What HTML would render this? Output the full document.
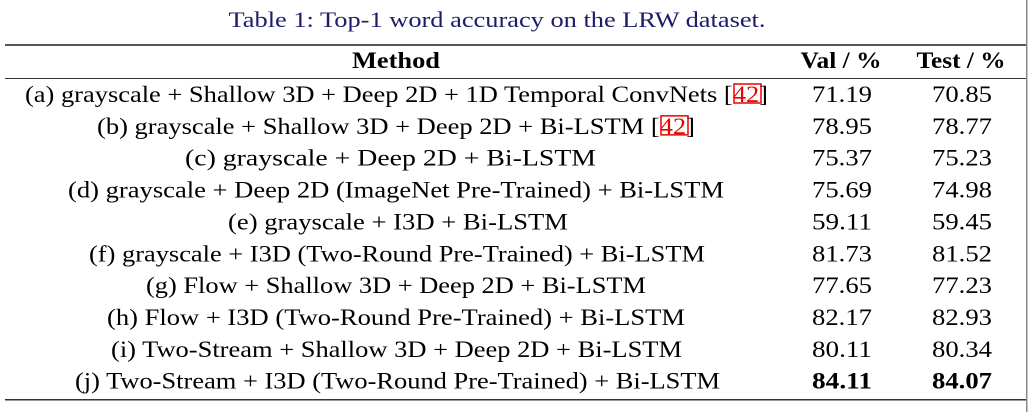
<!DOCTYPE html>
<html><head><meta charset="utf-8">
<style>
html,body{margin:0;padding:0;background:#fff;}
svg, svg text{font-family:"Liberation Serif","Times New Roman",Times,serif;}
</style></head>
<body>
<svg id="tbl" width="1030" height="412" font-family="Liberation Serif, Times New Roman, Times, serif">
<text x="497" y="27" font-size="22" fill="#1c1c6b" text-anchor="middle" textLength="537" lengthAdjust="spacingAndGlyphs">Table 1: Top-1 word accuracy on the LRW dataset.</text>
<rect x="5" y="44" width="1021" height="2" fill="#555"/>
<rect x="5" y="78" width="1021" height="1" fill="#333"/>
<rect x="5" y="399" width="1021" height="1.5" fill="#333"/>
<rect x="1026" y="0" width="1.5" height="412" fill="#888"/>
<text x="396" y="68" font-size="23" font-weight="bold" text-anchor="middle" textLength="88" lengthAdjust="spacingAndGlyphs">Method</text>
<text x="841" y="68" font-size="23" font-weight="bold" text-anchor="middle" textLength="81" lengthAdjust="spacingAndGlyphs">Val / %</text>
<text x="961" y="68" font-size="23" font-weight="bold" text-anchor="middle" textLength="89" lengthAdjust="spacingAndGlyphs">Test / %</text>
<g id="rows"></g>
</svg>
<script>
const methods = [
 "(a) grayscale + Shallow 3D + Deep 2D + 1D Temporal ConvNets [42]",
 "(b) grayscale + Shallow 3D + Deep 2D + Bi-LSTM [42]",
 "(c) grayscale + Deep 2D + Bi-LSTM",
 "(d) grayscale + Deep 2D (ImageNet Pre-Trained) + Bi-LSTM",
 "(e) grayscale + I3D + Bi-LSTM",
 "(f) grayscale + I3D (Two-Round Pre-Trained) + Bi-LSTM",
 "(g) Flow + Shallow 3D + Deep 2D + Bi-LSTM",
 "(h) Flow + I3D (Two-Round Pre-Trained) + Bi-LSTM",
 "(i) Two-Stream + Shallow 3D + Deep 2D + Bi-LSTM",
 "(j) Two-Stream + I3D (Two-Round Pre-Trained) + Bi-LSTM"
];
const valAcc = ["71.19","78.95","75.37","75.69","59.11","81.73","77.65","82.17","80.11","84.11"];
const testAcc = ["70.85","78.77","75.23","74.98","59.45","81.52","77.23","82.93","80.34","84.07"];
const methodSpans = [[25,768],[97,695],[185,596],[68,724],[228,568],[89,705],[146,646],[107,685],[111,682],[75,720]];
const NS="http://www.w3.org/2000/svg";
const g=document.getElementById('rows');
const best=valAcc.map(Number).indexOf(Math.max(...valAcc.map(Number)));
const bestT=testAcc.map(Number).indexOf(Math.max(...testAcc.map(Number)));
function mk(tag,attrs,txt){const e=document.createElementNS(NS,tag);for(const k in attrs)e.setAttribute(k,attrs[k]);if(txt!==undefined)e.textContent=txt;return e;}
methods.forEach((m,i)=>{
  const y=102+i*31.85;
  const sp=methodSpans[i];
  const cite=m.endsWith("[42]");
  const t=mk('text',{x:(sp[0]+sp[1])/2,y:y,'font-size':23,'text-anchor':'middle',textLength:sp[1]-sp[0],lengthAdjust:'spacingAndGlyphs'});
  
  
  if(cite){
    t.appendChild(document.createTextNode(m.slice(0,-3)));
    const ts=mk('tspan',{fill:'#e00'},'42');t.appendChild(ts);
    t.appendChild(document.createTextNode(']'));
    const r=mk('rect',{x:sp[1]-34,y:y-18,width:27,height:19,fill:'none',stroke:'#e00','stroke-width':1.5});
    
    
    g.appendChild(r);
  } else t.textContent=m;
  g.appendChild(t);
  const v=mk('text',{x:842,y:y,'font-size':23,'text-anchor':'middle',textLength:60,lengthAdjust:'spacingAndGlyphs','font-weight':i===best?'bold':'normal'},valAcc[i]);
  
  
  g.appendChild(v);
  const te=mk('text',{x:962,y:y,'font-size':23,'text-anchor':'middle',textLength:60,lengthAdjust:'spacingAndGlyphs','font-weight':i===bestT?'bold':'normal'},testAcc[i]);
  
  
  g.appendChild(te);
});
</script>
</body></html>
